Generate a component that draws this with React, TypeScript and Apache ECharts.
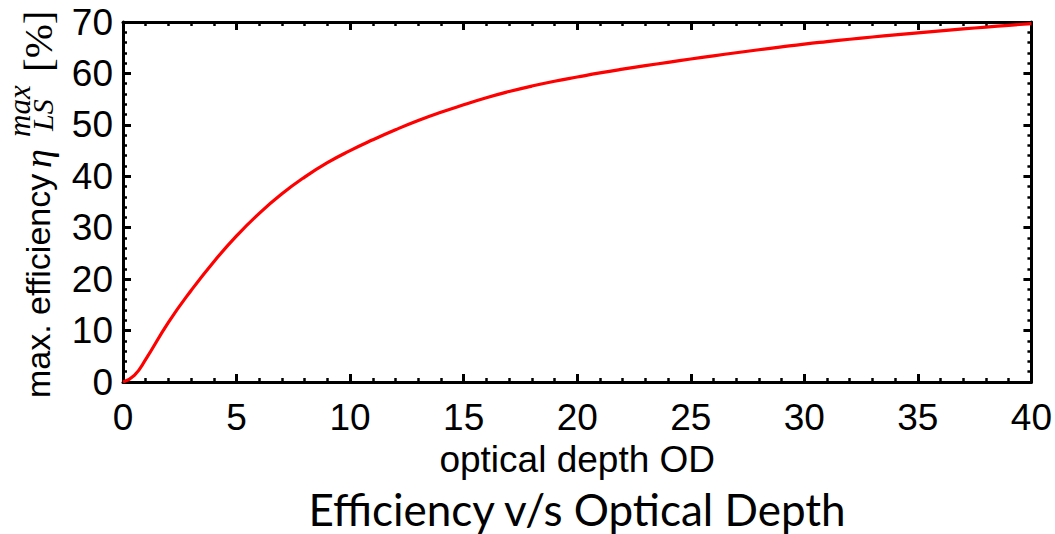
import React, { useEffect, useRef } from "react";
import * as echarts from "echarts";

const opticalDepth = [0, 0.5, 1, 2, 3, 4, 5, 6, 7, 8, 9, 10, 11, 12, 13, 14, 15, 16, 17, 18, 19, 20, 21, 22, 23, 24, 25, 26, 27, 28, 29, 30, 31, 32, 33, 34, 35, 36, 37, 38, 39, 40];
const efficiency = [0, 1.3, 4.4, 11.6, 17.8, 23.4, 28.4, 32.8, 36.6, 39.85, 42.65, 45.0, 47.1, 49.05, 50.85, 52.45, 53.9, 55.28, 56.48, 57.54, 58.48, 59.3, 60.1, 60.83, 61.51, 62.16, 62.8, 63.42, 64.02, 64.6, 65.16, 65.7, 66.18, 66.64, 67.08, 67.5, 67.9, 68.28, 68.65, 69.01, 69.36, 69.7];

const xLabelName = "optical depth OD";
const chartTitle = "Efficiency v/s Optical Depth";

export default function App() {
  const ref = useRef<HTMLDivElement>(null);
  useEffect(() => {
    if (!ref.current) return;
    const chart = echarts.init(ref.current, null, { renderer: "svg" });
    const tickFont = { fontFamily: "Liberation Sans, Arial", fontSize: 37, color: "#000" };
    const axisLine = { show: true, onZero: false, lineStyle: { color: "#000", width: 3 } };
    const axisTick = { show: true, inside: true, length: 8, lineStyle: { color: "#000", width: 3 } };
    const minorTick = { show: true, splitNumber: 5, length: 4, lineStyle: { color: "#000", width: 2.5 } };
    const serif = "'Liberation Serif', 'DejaVu Serif', serif";
    const sans = "'Liberation Sans', Arial, sans-serif";
    chart.setOption({
      animation: false,
      backgroundColor: "#fff",
      grid: { left: 123, right: 23, top: 22, bottom: 152, containLabel: false },
      xAxis: [
        {
          type: "value", min: 0, max: 40, interval: 5, position: "bottom",
          axisLine, axisTick, minorTick,
          splitLine: { show: false },
          axisLabel: { ...tickFont, margin: 17 },
          name: xLabelName, nameLocation: "middle", nameGap: 54,
          nameTextStyle: { fontFamily: "Liberation Sans, Arial", fontSize: 37, color: "#000" },
        },
        {
          type: "value", min: 0, max: 40, interval: 5, position: "top",
          axisLine, axisTick, minorTick,
          splitLine: { show: false }, axisLabel: { show: false },
        },
      ],
      yAxis: [
        {
          type: "value", min: 0, max: 70, interval: 10, position: "left",
          axisLine, axisTick, minorTick,
          splitLine: { show: false },
          axisLabel: { ...tickFont, margin: 10 },
        },
        {
          type: "value", min: 0, max: 70, interval: 10, position: "right",
          axisLine, axisTick, minorTick,
          splitLine: { show: false }, axisLabel: { show: false },
        },
      ],
      series: [
        {
          type: "line",
          xAxisIndex: 0, yAxisIndex: 0,
          data: opticalDepth.map((x, i) => [x, efficiency[i]]),
          showSymbol: false, smooth: true,
          lineStyle: { color: "#ff0000", width: 3.2 },
          z: 1,
        },
      ],
      graphic: [
        {
          type: "group", x: 38, y: 398, rotation: Math.PI / 2,
          children: [
            { type: "text", x: 0, y: 0, style: { text: "max. efficiency", font: `normal 34px ${sans}`, fill: "#000", textVerticalAlign: "middle", textBaseline: "middle", textAlign: "left" } },
            { type: "text", x: 230, y: 0, style: { text: "η", font: `italic 38px ${serif}`, fill: "#000", textVerticalAlign: "middle", textBaseline: "middle", textAlign: "left" } },
            { type: "text", x: 261, y: -19, style: { text: "max", font: `italic 31px ${serif}`, fill: "#000", textVerticalAlign: "middle", textBaseline: "middle", textAlign: "left" } },
            { type: "text", x: 267, y: 4, style: { text: "LS", font: `italic 30px ${serif}`, fill: "#000", textVerticalAlign: "middle", textBaseline: "middle", textAlign: "left" } },
            { type: "text", x: 326, y: 0, style: { text: "[%]", font: `normal 41px ${serif}`, fill: "#000", textVerticalAlign: "middle", textBaseline: "middle", textAlign: "left" } },
          ],
        },
        {
          type: "text", x: 577, y: 509,
          style: { text: chartTitle, font: "normal 44px Lato, 'Open Sans', sans-serif", fill: "#000", textAlign: "center", textVerticalAlign: "middle", textBaseline: "middle" },
        },
      ],
    });
    return () => chart.dispose();
  }, []);
  return <div ref={ref} style={{ position: "fixed", left: 0, top: 0, width: 1055, height: 534 }} />;
}
